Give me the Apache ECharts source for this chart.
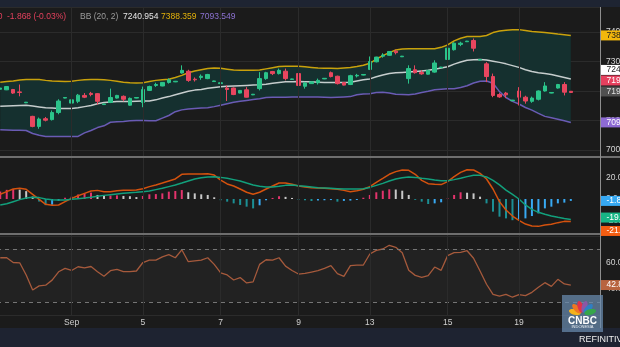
<!DOCTYPE html>
<html><head><meta charset="utf-8">
<script src="https://cdn.jsdelivr.net/npm/echarts@6/dist/echarts.min.js"></script>
<style>html,body{margin:0;padding:0;background:#1b1b1b;overflow:hidden}#c{width:620px;height:347px}</style>
</head><body><div id="c"></div>
<script>
// ---- sessions (day label, number of hourly bars) ----
const days = [['Aug 30',5],['Aug 31',6],['Sep 1',6],['Sep 2',5],['Sep 5',6],['Sep 6',6],['Sep 7',6],['Sep 8',6],['Sep 9',5],['Sep 12',6],['Sep 13',6],['Sep 14',6],['Sep 15',6],['Sep 16',5],['Sep 19',6],['Sep 20',3]];
const emptySlots = 4;
const tickDays = ['Sep 1','Sep 5','Sep 7','Sep 9','Sep 13','Sep 15','Sep 19'];
const tickLabels = ['Sep','5','7','9','13','15','19'];

// ---- price candles ----
const open = [7206,7204,7205,7197,7160,7114,7080,7106,7103,7127,
7176,7159,7165,7185,7192,7191,7154,7161,7176,7182,
7152,7176,7161,7202,7219,7217,7229,7231,7261,7267,
7240,7246,7242,7232,7225,7210,7210,7193,7204,7187,
7208,7242,7266,7259,7267,7239,7259,7216,7225,7228,
7241,7262,7250,7229,7222,7251,7254,7273,7299,7318,
7321,7335,7316,7242,7272,7263,7257,7264,7279,7307,
7340,7358,7367,7371,7305,7292,7249,7188,7193,7167,
7200,7179,7165,7172,7200,7193,7210,7222,7199];
const close = [7210,7215,7193,7195,7162,7080,7105,7101,7127,7166,
7178,7170,7186,7179,7188,7165,7156,7178,7185,7172,
7175,7178,7205,7215,7222,7229,7238,7233,7270,7236,
7238,7250,7256,7234,7228,7205,7188,7202,7179,7189,
7242,7262,7259,7270,7242,7241,7219,7227,7231,7236,
7243,7249,7225,7220,7252,7253,7256,7300,7315,7322,
7334,7330,7318,7276,7262,7258,7270,7295,7281,7345,
7362,7362,7369,7345,7307,7249,7185,7180,7187,7169,
7179,7166,7176,7200,7217,7195,7222,7196,7195];
const low = [7196,7203,7190,7182,7159,7077,7072,7097,7100,7121,
7175,7157,7159,7176,7182,7154,7153,7159,7174,7165,
7150,7175,7145,7200,7214,7216,7225,7230,7259,7231,
7232,7238,7240,7231,7200,7166,7186,7192,7178,7186,
7202,7238,7254,7256,7236,7238,7215,7208,7224,7222,
7240,7246,7222,7219,7220,7246,7253,7271,7297,7313,
7320,7324,7315,7225,7259,7255,7256,7262,7278,7305,
7337,7352,7366,7334,7304,7230,7179,7177,7176,7166,
7151,7157,7160,7168,7198,7192,7208,7185,7194];
const high = [7214,7216,7207,7222,7163,7116,7110,7112,7134,7172,
7179,7171,7190,7193,7197,7193,7157,7208,7187,7185,
7178,7179,7215,7218,7228,7230,7243,7234,7287,7272,
7246,7256,7258,7235,7242,7219,7212,7203,7213,7190,
7264,7265,7268,7276,7276,7242,7261,7231,7232,7242,
7244,7266,7252,7230,7255,7258,7257,7317,7316,7328,
7335,7340,7319,7287,7287,7270,7271,7304,7282,7347,
7365,7367,7370,7378,7308,7298,7259,7193,7197,7170,
7213,7184,7181,7202,7230,7196,7224,7230,7200];

// ---- Bollinger bands (20, 2) ----
const bbUpper = [7230,7232,7234,7237,7239,7239,7239,7236,7234,7233,
7232,7233,7236,7238,7239,7239,7238,7236,7233,7230,
7228,7227,7228,7232,7236,7238,7240,7246,7253,7262,
7268,7272,7276,7278,7277,7274,7271,7270,7270,7270,
7271,7275,7279,7283,7284,7284,7284,7282,7280,7278,
7277,7277,7276,7278,7280,7283,7287,7294,7308,7320,
7330,7339,7342,7343,7343,7343,7343,7343,7348,7356,
7370,7379,7385,7385,7385,7388,7398,7403,7406,7408,
7408,7405,7402,7400,7398,7396,7393,7391,7388.359];
const bbMiddle = [7148,7149,7150,7151,7152,7149,7146,7143,7142,7141,
7141,7141,7143,7147,7151,7157,7161,7163,7164,7164,
7164,7165,7166,7166,7170,7176,7181,7187,7193,7199,
7203,7205,7209,7212,7214,7216,7217,7218,7219,7220,
7221,7223,7226,7229,7231,7231,7232,7231,7231,7230,
7229,7229,7229,7229,7230,7234,7238,7241,7248,7254,
7259,7262,7263,7264,7266,7268,7270,7274,7278,7282,
7291,7298,7304,7306,7307,7305,7301,7297,7292,7286,
7280,7272,7266,7262,7259,7256,7251,7246,7240.954];
const bbLower = [7069,7068,7067,7067,7066,7056,7050,7046,7046,7046,
7046,7046,7046,7058,7066,7076,7082,7094,7096,7097,
7099,7100,7100,7099,7099,7108,7117,7130,7136,7139,
7141,7142,7143,7147,7152,7157,7162,7165,7168,7171,
7174,7178,7179,7179,7179,7180,7180,7180,7180,7180,
7179,7178,7179,7180,7181,7187,7190,7191,7195,7196,
7193,7189,7188,7187,7190,7195,7199,7204,7206,7208,
7208,7212,7218,7227,7233,7234,7226,7198,7178,7165,
7156,7144,7135,7124,7114,7109,7104,7099,7093.549];
const headerValues = ['7240.954','7388.359','7093.549'];
const headerChange = '-1.868 (-0.03%)';

// ---- MACD ----
const macdLine = [4.4,6.9,9.4,10.0,9.1,4.4,-0.3,-5.0,-5.9,-5.6,
-2.5,0.6,3.1,5.3,7.5,8.1,6.9,6.9,7.8,8.1,
8.1,8.4,9.7,11.6,13.2,15.0,16.9,18.8,23.2,23.5,
23.5,23.5,23.8,22.5,17.8,14.1,12.2,9.4,6.3,4.4,
6.3,9.4,12.2,15.0,15.0,13.8,12.2,11.3,10.6,10.3,
10.0,9.7,9.1,8.1,6.9,7.8,9.1,11.6,15.7,19.4,
23.2,25.7,27.2,26.9,23.2,17.5,14.4,13.8,13.5,16.3,
21.0,25.0,27.5,27.2,24.1,18.8,9.4,-2.5,-10.3,-16.0,
-20.0,-23.5,-25.3,-25.7,-24.4,-23.8,-22.2,-21.0,-21.1];
const signalLine = [-5.6,-4.4,-2.5,-0.6,0.9,1.6,1.3,0.0,-0.6,-0.9,
-0.9,-0.3,0.3,0.9,1.6,2.5,3.4,4.1,4.7,5.3,
5.9,6.3,6.9,7.5,8.8,10.0,11.6,13.2,15.0,16.9,
18.8,20.0,20.7,21.0,20.3,19.4,18.2,16.9,15.0,13.2,
11.9,11.3,11.3,11.9,12.8,13.2,12.5,11.9,11.3,10.6,
10.3,10.0,9.7,9.4,9.4,9.4,9.7,10.9,12.8,14.7,
16.9,18.8,20.0,20.7,20.3,19.4,18.8,17.8,17.2,17.2,
18.2,19.4,21.0,22.2,22.2,20.7,17.5,13.2,8.4,4.4,
0.0,-5.6,-9.7,-12.5,-14.4,-16.0,-17.2,-18.3,-19.3];
const macdHist = [7.0,8.6,9.3,8.8,7.4,2.3,-2.4,-5.8,-5.4,-1.6,
1.2,2.2,4.2,5.5,6.0,3.8,2.8,3.2,3.4,2.9,
2.6,1.8,2.8,4.4,4.6,5.3,6.9,7.5,8.4,6.3,
5.3,4.4,3.8,1.6,-1.2,-2.5,-4.1,-5.6,-7.2,-8.8,
-5.9,-1.2,1.0,2.6,2.0,1.0,-0.8,-1.2,-1.9,-1.4,
-1.2,-1.0,-2.5,-1.8,-1.5,-0.9,1.2,3.8,6.3,7.8,
9.1,8.9,7.8,3.8,-0.8,-2.5,-4.7,-4.1,-3.1,0.6,
3.8,6.3,5.9,5.3,2.2,-4.1,-11.9,-16.6,-18.2,-19.9,
-19.5,-18.2,-16.0,-13.5,-8.8,-7.2,-4.1,-3.4,-1.8];

// ---- RSI ----
const rsi = [63.4,63.4,59.8,59.6,50.4,39.1,42.2,42.7,46.5,52.8,
55.4,53.8,56.6,55.8,56.8,52.9,49.4,53.6,54.6,52.9,
52.9,53.4,59.8,61.6,61.6,64.1,65.7,63.4,69.4,60.4,
61.0,61.6,63.4,58.4,51.9,50.4,46.6,48.4,44.4,45.2,
58.4,61.9,61.6,63.4,57.1,53.8,51.1,51.6,52.6,53.6,
55.4,57.4,51.4,49.4,57.4,57.9,57.9,66.2,69.0,70.0,
72.8,71.3,67.2,53.9,50.1,48.6,49.9,56.4,53.9,65.0,
67.2,67.5,68.7,63.0,53.4,43.4,35.8,34.5,35.8,33.6,
35.5,34.8,37.3,41.1,44.6,41.8,47.1,43.6,42.8];
const rsiLevels = [70, 30];

// ---------------- build ----------------
const FONT = "'Liberation Sans','Arimo',sans-serif";
const FS = 8.5;
const categories = [];
days.forEach(([d, cnt]) => { for (let k = 0; k < cnt; k++) categories.push(d + ' #' + (k + 1)); });
for (let k = 0; k < emptySlots; k++) categories.push('pad ' + k);
const tickCat = {};
tickDays.forEach((d, j) => { tickCat[d + ' #1'] = tickLabels[j]; });
const vLineData = Object.keys(tickCat).map(c => ({ xAxis: c }));
const vLines = { silent: true, symbol: ['none', 'none'], label: { show: false }, animation: false,
  lineStyle: { color: '#2b2b2b', width: 1, type: 'solid' }, emphasis: { disabled: true }, data: vLineData };
const last = open.length - 1;
const candleData = open.map((o, i) => [o, close[i], low[i], high[i]]);
const bandWidth = bbUpper.map((u, i) => +(u - bbLower[i]).toFixed(3));
const histData = macdHist.map((v, i) => {
  const p = i > 0 ? macdHist[i - 1] : v;
  let c;
  if (v >= 0) c = v >= p ? '#e3336c' : '#c8c8c8';
  else c = v <= p ? '#1c8f94' : '#38a9f2';
  return { value: v, itemStyle: { color: c } };
});

const chart = echarts.init(document.getElementById('c'), null, { renderer: 'canvas', width: 620, height: 347 });
const gridL = -3, gridW = 603;
const gridBase = { outerBoundsMode: 'none', containLabel: false };
const xBase = { type: 'category', data: categories, boundaryGap: true,
  axisLine: { show: false }, axisTick: { show: false }, splitLine: { show: false } };
const yLabel = { color: '#d4d4d4', fontSize: FS, fontFamily: FONT, margin: 6, showMinLabel: false, showMaxLabel: false };

chart.setOption({
  animation: false,
  backgroundColor: '#1b1b1b',
  grid: [
    Object.assign({ left: gridL, top: 7, width: gridW, height: 150 }, gridBase),
    Object.assign({ left: gridL, top: 156.4, width: gridW, height: 85.2 }, gridBase),
    Object.assign({ left: gridL, top: 235.75, width: gridW, height: 79.5 }, gridBase)
  ],
  xAxis: [
    Object.assign({ gridIndex: 0, axisLabel: { show: false } }, xBase),
    Object.assign({ gridIndex: 1, axisLabel: { show: false } }, xBase),
    Object.assign({ gridIndex: 2, axisLabel: { show: true, interval: 0, margin: 3, color: '#cfcfcf', fontSize: FS, fontFamily: FONT,
      formatter: v => tickCat[v] || '' } }, xBase)
  ],
  yAxis: [
    { gridIndex: 0, type: 'value', position: 'right', min: 6976.3, max: 7484.7, scale: true,
      axisLine: { show: false }, axisTick: { show: false },
      splitLine: { lineStyle: { color: '#2b2b2b' } },
      axisLabel: Object.assign({ formatter: v => String(Math.round(v)) }, yLabel) },
    { gridIndex: 1, type: 'value', position: 'right', min: -40, max: 40, interval: 20,
      axisLine: { show: false }, axisTick: { show: false }, splitLine: { show: false },
      axisLabel: Object.assign({ formatter: v => v.toFixed(1) }, yLabel) },
    { gridIndex: 2, type: 'value', position: 'right', min: 20, max: 80, interval: 20,
      axisLine: { show: false }, axisTick: { show: false },
      splitLine: { lineStyle: { color: '#2b2b2b' } },
      axisLabel: Object.assign({ formatter: v => v.toFixed(1) }, yLabel) }
  ],
  series: [
    { name: 'bbBase', type: 'line', xAxisIndex: 0, yAxisIndex: 0, data: bbLower, stack: 'bb', symbol: 'none',
      lineStyle: { width: 0, opacity: 0 }, silent: true, z: 1, markLine: vLines },
    { name: 'bbFill', type: 'line', xAxisIndex: 0, yAxisIndex: 0, data: bandWidth, stack: 'bb', symbol: 'none',
      lineStyle: { width: 0, opacity: 0 }, areaStyle: { color: '#15302f', opacity: 1 }, silent: true, z: 1 },
    { name: 'Upper', type: 'line', xAxisIndex: 0, yAxisIndex: 0, data: bbUpper, symbol: 'none', z: 2,
      lineStyle: { color: '#c9a10c', width: 1.5 } },
    { name: 'Basis', type: 'line', xAxisIndex: 0, yAxisIndex: 0, data: bbMiddle, symbol: 'none', z: 2,
      lineStyle: { color: '#c6cdcd', width: 1.5 } },
    { name: 'Lower', type: 'line', xAxisIndex: 0, yAxisIndex: 0, data: bbLower, symbol: 'none', z: 2,
      lineStyle: { color: '#6a5bb4', width: 1.5 } },
    { name: 'Price', type: 'candlestick', xAxisIndex: 0, yAxisIndex: 0, data: candleData, barWidth: 4, z: 3,
      itemStyle: { color: '#2bc48a', color0: '#e8465f', borderColor: '#2bc48a', borderColor0: '#e8465f', borderWidth: 1 } },
    { name: 'Hist', type: 'bar', xAxisIndex: 1, yAxisIndex: 1, data: histData, barWidth: 2, z: 2, markLine: vLines },
    { name: 'MACD', type: 'line', xAxisIndex: 1, yAxisIndex: 1, data: macdLine, symbol: 'none', z: 3,
      lineStyle: { color: '#d4520e', width: 1.5 } },
    { name: 'Signal', type: 'line', xAxisIndex: 1, yAxisIndex: 1, data: signalLine, symbol: 'none', z: 3,
      lineStyle: { color: '#12a07c', width: 1.5 } },
    { name: 'RSI', type: 'line', xAxisIndex: 2, yAxisIndex: 2, data: rsi, symbol: 'none', z: 3,
      lineStyle: { color: '#a65a3c', width: 1.3 },
      markArea: { silent: true, itemStyle: { color: '#222222' }, data: [[{ yAxis: rsiLevels[1] }, { yAxis: rsiLevels[0] }]] },
      markLine: { silent: true, symbol: ['none', 'none'], label: { show: false }, animation: false,
        data: rsiLevels.map(v => ({ yAxis: v, lineStyle: { color: '#757575', type: [4, 4], width: 1 } }))
          .concat(vLineData.map(d => Object.assign({ lineStyle: { color: '#2b2b2b', type: 'solid', width: 1 } }, d))) } }
  ]
});

// ---- value tags on the right axis, placed through the axes' scales ----
const tags = [
  { axis: 0, value: bbUpper[last], text: bbUpper[last].toFixed(2), bg: '#f2b80c', fg: '#1b1b1b', dy: 0 },
  { axis: 0, value: bbMiddle[last], text: bbMiddle[last].toFixed(2), bg: '#ffffff', fg: '#1b1b1b', dy: -9 },
  { axis: 0, value: close[last], text: close[last].toFixed(2), bg: '#e6405e', fg: '#ffffff', dy: -12 },
  { axis: 0, value: close[last], text: close[last].toFixed(2), bg: '#505050', fg: '#e0e0e0', dy: -1 },
  { axis: 0, value: bbLower[last], text: bbLower[last].toFixed(2), bg: '#8d6ad4', fg: '#ffffff', dy: 0 },
  { axis: 1, value: macdHist[last], text: macdHist[last].toFixed(2), bg: '#36a8f2', fg: '#ffffff', dy: 0 },
  { axis: 1, value: signalLine[last], text: signalLine[last].toFixed(2), bg: '#17b585', fg: '#ffffff', dy: -2 },
  { axis: 1, value: macdLine[last], text: macdLine[last].toFixed(2), bg: '#f35d12', fg: '#ffffff', dy: 9.5 },
  { axis: 2, value: rsi[last], text: rsi[last].toFixed(2), bg: '#b8643f', fg: '#ffffff', dy: 0 }
];
const gfx = [];
gfx.push({ type: 'rect', z: 100, shape: { x: 0, y: 0, width: 620, height: 7 }, style: { fill: '#1e2432' } });
gfx.push({ type: 'rect', z: 100, shape: { x: 0, y: 328, width: 620, height: 19 }, style: { fill: '#1e2331' } });
gfx.push({ type: 'rect', z: 100, shape: { x: 0, y: 156, width: 620, height: 2 }, style: { fill: '#6e6e6e' } });
gfx.push({ type: 'rect', z: 100, shape: { x: 0, y: 233, width: 620, height: 2 }, style: { fill: '#6e6e6e' } });
gfx.push({ type: 'line', z: 100, shape: { x1: 600.5, y1: 7, x2: 600.5, y2: 328 }, style: { stroke: '#8e8e8e', lineWidth: 1 } });
const hdr = (x, text, fill, align) => ({ type: 'text', z: 101, x: x, y: 17,
  style: { text: text, fill: fill, font: FS + 'px ' + FONT, textAlign: align || 'left', verticalAlign: 'middle', textVerticalAlign: 'middle' } });
gfx.push(hdr(2.5, '0', '#e4415d', 'right'));
gfx.push(hdr(7, headerChange, '#e4415d'));
gfx.push(hdr(80, 'BB (20, 2)', '#9c9c9c'));
gfx.push(hdr(123, headerValues[0], '#e6e6e6'));
gfx.push(hdr(161, headerValues[1], '#e3b10a'));
gfx.push(hdr(200, headerValues[2], '#8c72d2'));
tags.forEach(t => {
  const y = chart.convertToPixel({ yAxisIndex: t.axis }, t.value) + t.dy;
  gfx.push({ type: 'rect', z: 102, shape: { x: 601, y: y - 5, width: 30, height: 10 }, style: { fill: t.bg } });
  gfx.push({ type: 'text', z: 103, x: 606.5, y: y,
    style: { text: t.text, fill: t.fg, font: FS + 'px ' + FONT, textAlign: 'left', verticalAlign: 'middle', textVerticalAlign: 'middle' } });
});
// broadcaster logo
gfx.push({ type: 'rect', z: 104, shape: { x: 562, y: 295, width: 41, height: 37 }, style: { fill: 'rgba(105,140,176,0.72)' } });
const feather = ['#f4b31c', '#ee7622', '#df3249', '#8a58a6', '#2f7fc3', '#36a64a'];
feather.forEach((c, k) => {
  const a = Math.PI * (1 - (k + 0.5) / feather.length);
  const cx = 582.5 + Math.cos(a) * 8, cy = 314 - Math.sin(a) * 7.5;
  gfx.push({ type: 'ellipse', z: 105, shape: { cx: 0, cy: 0, rx: 2.8, ry: 6 }, x: cx, y: cy,
    rotation: a - Math.PI / 2, style: { fill: c } });
});
gfx.push({ type: 'text', z: 106, x: 582.5, y: 321, style: { text: 'CNBC', fill: '#ffffff', font: 'bold 10px ' + FONT, textAlign: 'center', verticalAlign: 'middle', textVerticalAlign: 'middle' } });
gfx.push({ type: 'text', z: 106, x: 582.5, y: 327, style: { text: 'INDONESIA', fill: '#e8eef5', font: '4px ' + FONT, textAlign: 'center', verticalAlign: 'middle', textVerticalAlign: 'middle' } });
gfx.push({ type: 'text', z: 106, x: 579, y: 340, style: { text: 'REFINITIV', fill: '#eeeeee', font: '9px ' + FONT, textAlign: 'left', verticalAlign: 'middle', textVerticalAlign: 'middle' } });

chart.setOption({ graphic: gfx });
</script>
</body></html>
